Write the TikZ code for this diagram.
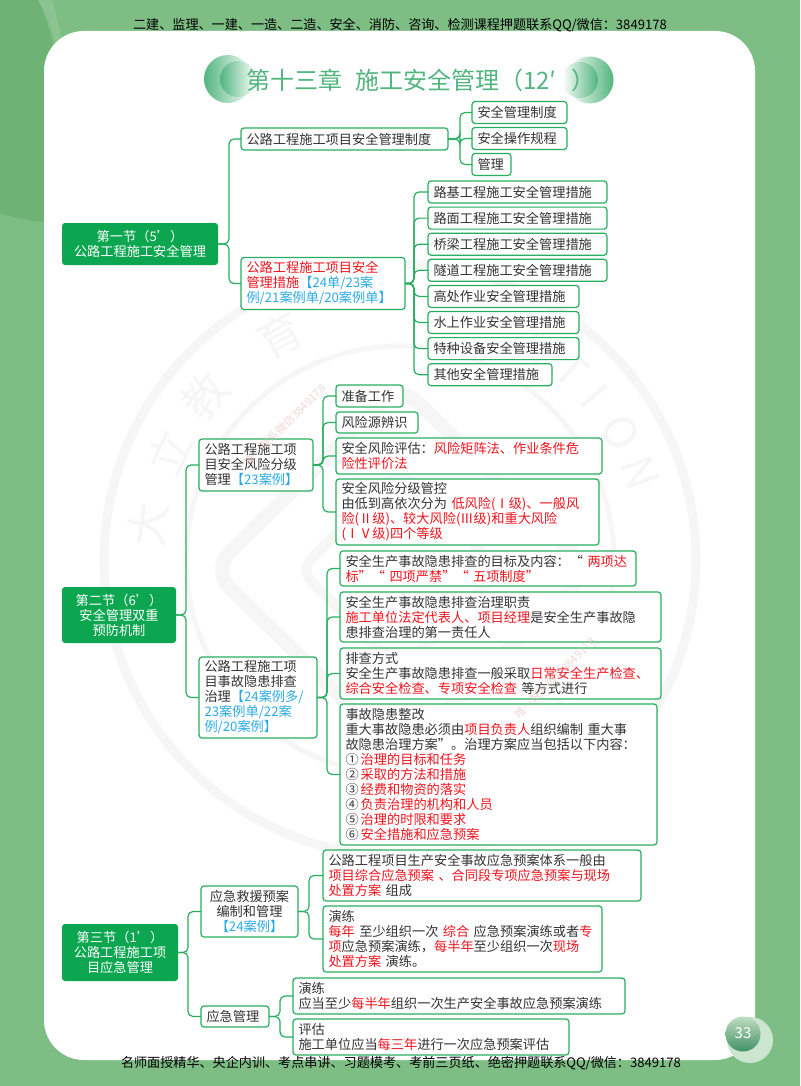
\documentclass[tikz,border=0pt]{standalone}
\usepackage{fontspec}
\setmainfont{Noto Sans CJK SC}
\usetikzlibrary{positioning}
\definecolor{bggreen}{HTML}{7EBE84}
\definecolor{bgdark}{HTML}{6FB276}
\definecolor{linegreen}{HTML}{27AE60}
\definecolor{secgreen}{HTML}{0BA64F}
\definecolor{titlegreen}{HTML}{52B57F}
\definecolor{inktext}{HTML}{333333}
\definecolor{inkred}{HTML}{F0141E}
\definecolor{inkblue}{HTML}{2BABE6}
\definecolor{wmgray}{HTML}{F6F6F6}
\definecolor{wmpink}{HTML}{E3B9B9}
\newcommand{\rd}[1]{\textcolor{inkred}{#1}}
\newcommand{\bl}[1]{\textcolor{inkblue}{#1}}
\newcommand{\fcolon}{^^^^ff1a}
\newcommand{\fcomma}{^^^^ff0c}
\newcommand{\flp}{^^^^ff08}
\newcommand{\frp}{^^^^ff09}
\tikzset{
	bx/.code 2 args={\pgfmathsetlengthmacro\bxwd{#1-11}\tikzset{text width=\bxwd,minimum height=#2}},
	box/.style={draw=linegreen, line width=1.2pt, rounded corners=3pt, fill=white, anchor=north west, align=left, inner xsep=5.5pt, inner ysep=0pt, outer sep=0pt, text=inktext, font=\fontsize{13.2}{15}\selectfont},
	sec/.style={box, draw=none, fill=secgreen, text=white, align=center},
	link/.style={draw=linegreen, line width=1.2pt, rounded corners=5pt},
	banner/.style={text=black, font=\fontsize{13.1}{15}\selectfont},
	wmchar/.style={text=wmgray, font=\fontsize{44}{44}\selectfont},
	wmnote/.style={text=wmpink, opacity=.55, rotate=45, font=\fontsize{11}{13}\selectfont},
}
\begin{document}
\begin{tikzpicture}[x=1pt,y=-1pt]
\useasboundingbox (0,0) rectangle (800,1086);
\fill[bggreen] (0,0) rectangle (800,1086);
\fill[bgdark] (0,0) -- (38,0) .. controls (62,50) and (66,120) .. (60,222) .. controls (40,224) and (20,218) .. (0,214) -- cycle;
\fill[white, opacity=.1] (38,0) .. controls (50,20) and (56,40) .. (58,60) -- (64,50) .. controls (60,30) and (56,14) .. (52,0) -- cycle;
\fill[white, rounded corners=40pt] (44,31) rectangle (755,1060);

\draw[wmgray, line width=9pt] (400,560) circle (296);
\draw[wmgray, line width=5pt] (400,560) circle (214);
\draw[wmgray, line width=14pt, rounded corners=24pt] (212,570) -- (400,385) -- (590,570) -- (400,755) -- cycle;
\draw[wmgray, line width=10pt, rounded corners=16pt] (300,570) -- (400,470) -- (500,570) -- (400,670) -- cycle;
\foreach \wmang/\wmtxt [count=\i] in {172/大,155/立,140/教,118/育,58/A,48/T,40/I,30/O,20/N}
	\node[wmchar, rotate=\wmang-90] (wm\i) at ({400+255*cos(\wmang)},{560-255*sin(\wmang)}) {\wmtxt};

\shade[left color=titlegreen, right color=white] (228,79) circle (24);
\shade[left color=titlegreen, right color=white] (238,79) circle (18);
\shade[right color=titlegreen, left color=white] (590,80) circle (23.5);
\shade[right color=titlegreen, left color=white] (580,80) circle (18);
\node[text=titlegreen, anchor=west, inner sep=0pt, font=\fontsize{24}{28}\selectfont] (title) at (246,80) {第十三章\hspace{13pt}施工安全管理\flp 12′\hspace{15pt}\frp};

\fill[white!60!bggreen] (750,1040) circle (23);
\shade[top color=white!50!bggreen, bottom color=titlegreen!80!black] (743,1034) circle (17.5);
\node[text=white, inner sep=0pt, font=\fontsize{15}{15}\selectfont] (pagenum) at (743,1033) {33};

\node[banner] (headline) at (400,25) {二建、监理、一建、一造、二造、安全、消防、咨询、检测课程押题联系QQ/微信\fcolon 3849178};
\node[banner] (footline) at (401,1063) {名师面授精华、央企内训、考点串讲、习题模考、考前三页纸、绝密押题联系QQ/微信\fcolon 3849178};

\node[sec, bx={156}{42}] (s1) at (62,223) {第一节\flp 5'\frp\\公路工程施工安全管理};
\node[box, bx={207}{22}] (n11) at (241,128) {公路工程施工项目安全管理制度};
\node[box, bx={95}{22}] (n111) at (472,101.5) {安全管理制度};
\node[box, bx={95}{22}, below=4pt of n111.south west, anchor=north west] (n112) {安全操作规程};
\node[box, bx={39}{22}, below=4pt of n112.south west, anchor=north west] (n113) {管理};
\node[box, bx={164}{52}] (n12) at (241,257.5) {\rd{公路工程施工项目安全}\\\rd{管理措施}\bl{【24单/23案}\\\bl{例/21案例单/20案例单】}};
\node[box, bx={179}{22}] (n121) at (428,181) {路基工程施工安全管理措施};
\node[box, bx={179}{22}, below=4.1pt of n121.south west, anchor=north west] (n122) {路面工程施工安全管理措施};
\node[box, bx={179}{22}, below=4.1pt of n122.south west, anchor=north west] (n123) {桥梁工程施工安全管理措施};
\node[box, bx={179}{22}, below=4.1pt of n123.south west, anchor=north west] (n124) {隧道工程施工安全管理措施};
\node[box, bx={151}{22}, below=4.1pt of n124.south west, anchor=north west] (n125) {高处作业安全管理措施};
\node[box, bx={151}{22}, below=4.1pt of n125.south west, anchor=north west] (n126) {水上作业安全管理措施};
\node[box, bx={151}{22}, below=4.1pt of n126.south west, anchor=north west] (n127) {特种设备安全管理措施};
\node[box, bx={124}{22}, below=4.1pt of n127.south west, anchor=north west] (n128) {其他安全管理措施};

\node[sec, bx={114}{56}] (s2) at (62,587) {第二节\flp 6'\frp\\安全管理双重\\预防机制};
\node[box, bx={114}{52}] (n21) at (199,439) {公路工程施工项\\目安全风险分级\\管理\bl{【23案例】}};
\node[box, bx={67}{22}] (n211) at (336,385) {准备工作};
\node[box, bx={82}{21}] (n212) at (336,412) {风险源辨识};
\node[box, bx={266}{36}] (n213) at (336,438) {安全风险评估\fcolon\rd{风险矩阵法、作业条件危}\\\rd{险性评价法}};
\node[box, bx={263}{66}] (n214) at (336,479) {安全风险分级管控\\由低到高依次分为 \rd{低风险(Ⅰ级)、一般风}\\\rd{险(Ⅱ级)、较大风险(Ⅲ级)和重大风险}\\\rd{(ⅠⅤ级)四个等级}};
\node[box, bx={118}{81}] (n22) at (199,657) {公路工程施工项\\目事故隐患排查\\治理\bl{【24案例多/}\\\bl{23案例单/22案}\\\bl{例/20案例】}};
\node[box, bx={296}{35}] (n221) at (340,551) {安全生产事故隐患排查的目标及内容\fcolon“ \rd{两项达}\\\rd{标”“ 四项严禁”“ 五项制度”}};
\node[box, bx={321}{50}] (n222) at (340,592) {安全生产事故隐患排查治理职责\\\rd{施工单位法定代表人、项目经理}是安全生产事故隐\\患排查治理的第一责任人};
\node[box, bx={321}{51}] (n223) at (340,648) {排查方式\\安全生产事故隐患排查一般采取\rd{日常安全生产检查、}\\\rd{综合安全检查、专项安全检查} 等方式进行};
\node[box, bx={317}{141}] (n224) at (340,704) {事故隐患整改\\重大事故隐患必须由\rd{项目负责人}组织编制 重大事\\故隐患治理方案”。治理方案应当包括以下内容\fcolon\\①\hspace{2pt}\rd{治理的目标和任务}\\②\hspace{2pt}\rd{采取的方法和措施}\\③\hspace{2pt}\rd{经费和物资的落实}\\④\hspace{2pt}\rd{负责治理的机构和人员}\\⑤\hspace{2pt}\rd{治理的时限和要求}\\⑥\hspace{2pt}\rd{安全措施和应急预案}};

\node[sec, bx={116}{57}] (s3) at (62,924) {第三节\flp 1'\frp\\公路工程施工项\\目应急管理};
\node[box, bx={97}{51}, align=center] (n31) at (201,886) {应急救援预案\\编制和管理\\\bl{【24案例】}};
\node[box, bx={318}{51}] (n311) at (323,850) {公路工程项目生产安全事故应急预案体系一般由\\\rd{项目综合应急预案 、合同段专项应急预案与现场}\\\rd{处置方案} 组成};
\node[box, bx={279}{66}] (n312) at (323,906) {演练\\\rd{每年} 至少组织一次 \rd{综合} 应急预案演练或者\rd{专}\\\rd{项}应急预案演练\fcomma\rd{每半年}至少组织一次\rd{现场}\\\rd{处置方案} 演练。};
\node[box, bx={68}{21}] (n32) at (201,1006) {应急管理};
\node[box, bx={332}{36}] (n321) at (293,978) {演练\\应当至少\rd{每半年}组织一次生产安全事故应急预案演练};
\node[box, bx={276}{36}] (n322) at (293,1019) {评估\\施工单位应当\rd{每三年}进行一次应急预案评估};

\foreach \kid in {n11,n12}
	\draw[link] (s1.east) -- ++(11,0) |- (\kid.west);
\foreach \kid in {n111,n112,n113}
	\draw[link] (n11.east) -- ++(12,0) |- (\kid.west);
\foreach \kid in {n121,n122,n123,n124,n125,n126,n127,n128}
	\draw[link] (n12.east) -- ++(9,0) |- (\kid.west);
\foreach \kid in {n21,n22}
	\draw[link] (s2.east) -- ++(10,0) |- (\kid.west);
\foreach \kid in {n211,n212,n213,n214}
	\draw[link] (n21.east) -- ++(10,0) |- (\kid.west);
\foreach \kid in {n221,n222,n223,n224}
	\draw[link] (n22.east) -- ++(10,0) |- (\kid.west);
\foreach \kid in {n31,n32}
	\draw[link] (s3.east) -- ++(10,0) |- (\kid.west);
\foreach \kid in {n311,n312}
	\draw[link] (n31.east) -- ++(11,0) |- (\kid.west);
\foreach \kid in {n321,n322}
	\draw[link] (n32.east) -- ++(11,0) |- (\kid.west);

\node[wmnote] (wmnotea) at (285,425) {唯一联系微信3849178};
\node[wmnote] (wmnoteb) at (555,678) {唯一联系微信3849178};
\end{tikzpicture}
\end{document}
